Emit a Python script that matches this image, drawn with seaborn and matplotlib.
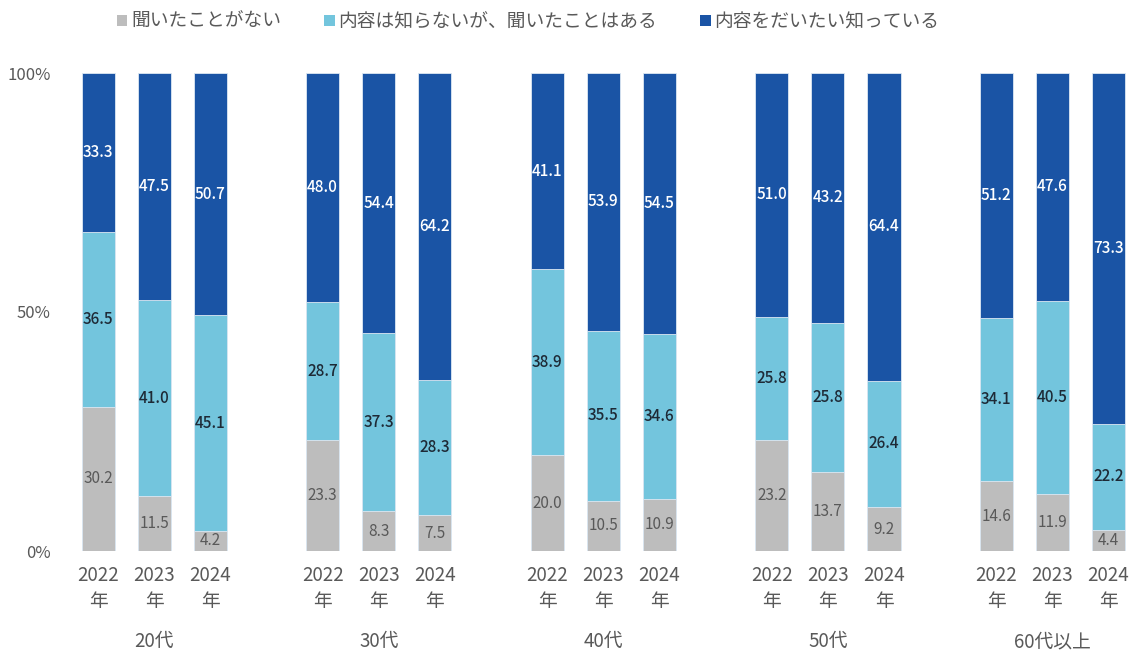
import numpy as np
import pandas as pd
import matplotlib
matplotlib.use('Agg')
import matplotlib.pyplot as plt
from matplotlib.patches import Patch
import seaborn as sns

# データ（%）
ages = ['20代', '30代', '40代', '50代', '60代以上']
years = ['2022\n年', '2023\n年', '2024\n年']
never = [30.2, 11.5, 4.2, 23.3, 8.3, 7.5, 20.0, 10.5, 10.9, 23.2, 13.7, 9.2, 14.6, 11.9, 4.4]
heard = [36.5, 41.0, 45.1, 28.7, 37.3, 28.3, 38.9, 35.5, 34.6, 25.8, 25.8, 26.4, 34.1, 40.5, 22.2]
know = [33.3, 47.5, 50.7, 48.0, 54.4, 64.2, 41.1, 53.9, 54.5, 51.0, 43.2, 64.4, 51.2, 47.6, 73.3]
series = ['聞いたことがない', '内容は知らないが、聞いたことはある', '内容をだいたい知っている']
colors = ['#BDBDBD', '#73C5DD', '#1A54A5']
txt_colors = ['#595959', '#1E2A36', 'white']

sns.set_style("white")
plt.rcParams['font.family'] = ['Noto Sans CJK JP', 'DejaVu Sans']

# 各グループ3本 + 空白1本
pos = [g * 4 + j for g in range(len(ages)) for j in range(3)]
df = pd.DataFrame({'pos': pos, 'never': never, 'heard': heard, 'know': know})
total = df[['never', 'heard', 'know']].sum(axis=1)
df['p0'] = df['never'] / total
df['p1'] = df['heard'] / total
df['p2'] = df['know'] / total
df['c0'] = df['p0']
df['c1'] = df['p0'] + df['p1']
df['c2'] = df['c1'] + df['p2']

fig = plt.figure(figsize=(11.31, 6.52), dpi=100)
ax = fig.add_axes([70 / 1131, 101 / 652, 1061 / 1131, 478 / 652])

# 100%積み上げ（累積値を上から重ねる）
for col, c in zip(['c2', 'c1', 'c0'], colors[::-1]):
    sns.barplot(data=df, x='pos', y=col, native_scale=True, color=c, width=0.59,
                errorbar=None, edgecolor='#DDE8F3', linewidth=0.6, saturation=1, ax=ax)

# 数値ラベル
for i, r in df.iterrows():
    bottoms = [0, r['c0'], r['c1']]
    shares = [r['p0'], r['p1'], r['p2']]
    vals = [r['never'], r['heard'], r['know']]
    for k in range(3):
        ax.text(r['pos'], bottoms[k] + shares[k] / 2, f'{vals[k]:.1f}', ha='center', va='center',
                fontsize=11, color=txt_colors[k], fontweight='medium' if k else 'normal')

ax.set_xlim(-0.5, 18.4)
ax.set_ylim(0, 1)
ax.set_xticks(pos)
ax.set_xticklabels(years * len(ages), fontsize=13.5, color='#595959', linespacing=1.35)
ax.set_yticks([0, 0.5, 1])
ax.set_yticklabels(['0%', '50%', '100%'], fontsize=12, color='#595959')
ax.tick_params(length=0, pad=10)
ax.tick_params(axis='y', pad=14)
ax.set_xlabel('')
ax.set_ylabel('')
sns.despine(left=True, bottom=True)

# 年代ラベル
for g, a in enumerate(ages):
    ax.text(g * 4 + 1, -0.19, a, transform=ax.get_xaxis_transform(), ha='center', va='center',
            fontsize=13.5, color='#595959')

handles = [Patch(facecolor=c, edgecolor='none') for c in colors]
leg = fig.legend(handles, series, loc='center', bbox_to_anchor=(0.467, 0.967), ncol=3,
                 frameon=False, fontsize=13.5, handlelength=0.55, handleheight=0.55,
                 handletextpad=0.2, columnspacing=2.3)
for t in leg.get_texts():
    t.set_color('#595959')

fig.savefig('out.png', dpi=100)
